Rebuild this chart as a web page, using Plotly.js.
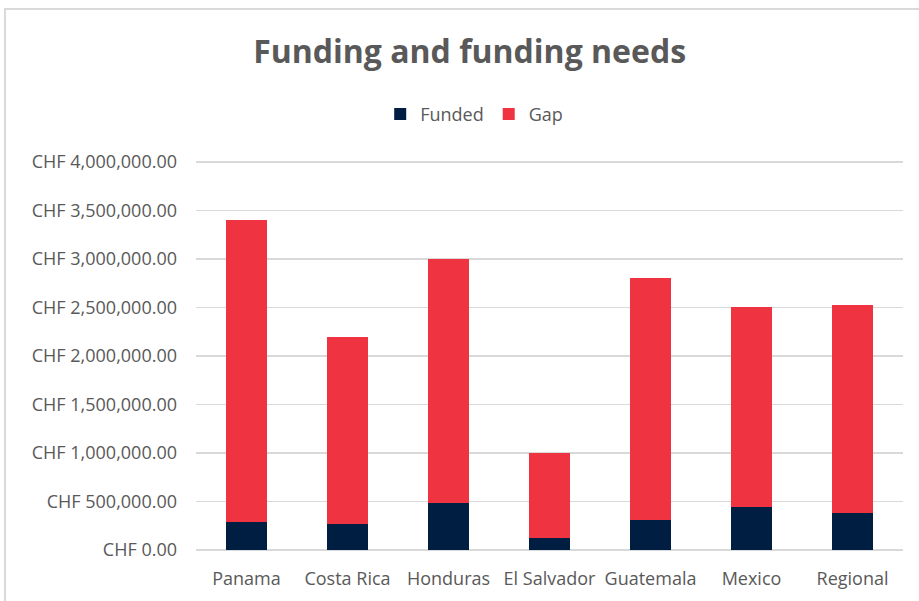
<!DOCTYPE html>
<html>
<head>
<meta charset="utf-8">
<script src="https://cdn.plot.ly/plotly-3.0.1.min.js"></script>
<style>
  html, body { margin: 0; padding: 0; background: #ffffff; }
  #chart { width: 919px; height: 601px; }
  #frame { position: absolute; left: 4px; top: 8px; width: 1000px; height: 700px;
           border-left: 2px solid #d9d9d9; border-top: 2px solid #d9d9d9; pointer-events: none; }
</style>
</head>
<body>
<div id="chart"></div>
<div id="frame"></div>
<script>
const categories = ["Panama", "Costa Rica", "Honduras", "El Salvador", "Guatemala", "Mexico", "Regional"];
const funded = [290000, 265000, 480000, 120000, 310000, 440000, 385000];
const gap = [3110000, 1935000, 2520000, 880000, 2490000, 2060000, 2140000];

const textColor = "#595959";
const fontFamily = "'Open Sans', 'Noto Sans', sans-serif";

const traces = [
  { type: "bar", name: "Funded", x: categories, y: funded, marker: { color: "#001E42" } },
  { type: "bar", name: "Gap", x: categories, y: gap, marker: { color: "#EF3340" } }
];

const layout = {
  width: 919, height: 601,
  barmode: "stack",
  bargap: 0.6,
  paper_bgcolor: "#ffffff",
  plot_bgcolor: "#ffffff",
  font: { family: fontFamily, color: textColor, size: 18 },
  margin: { l: 196, r: 16, t: 158, b: 51 },
  title: {
    text: "<b>Funding and funding needs</b>",
    font: { family: fontFamily, size: 32, color: textColor },
    x: 0.511, xref: "container", xanchor: "center",
    y: 0.913, yref: "container", yanchor: "middle"
  },
  showlegend: true,
  legend: {
    orientation: "h",
    xref: "container", x: 0.516, xanchor: "center",
    yref: "container", y: 0.81, yanchor: "middle",
    font: { family: fontFamily, size: 18, color: textColor },
    traceorder: "normal",
    itemwidth: 30
  },
  xaxis: {
    type: "category",
    showgrid: false,
    showline: false,
    zeroline: false,
    ticks: "",
    tickfont: { family: fontFamily, size: 18, color: textColor },
    ticklabelstandoff: 16
  },
  yaxis: {
    range: [0, 4040000],
    dtick: 500000,
    tick0: 0,
    tickprefix: "CHF ",
    tickformat: ",.2f",
    showgrid: true,
    gridcolor: "#d9d9d9",
    gridwidth: 1.5,
    zeroline: true,
    zerolinecolor: "#d9d9d9",
    zerolinewidth: 1.5,
    showline: false,
    ticks: "",
    tickfont: { family: fontFamily, size: 18, color: textColor },
    ticklabelstandoff: 18
  }
};

Plotly.newPlot("chart", traces, layout, { displayModeBar: false, staticPlot: true });
</script>
</body>
</html>
